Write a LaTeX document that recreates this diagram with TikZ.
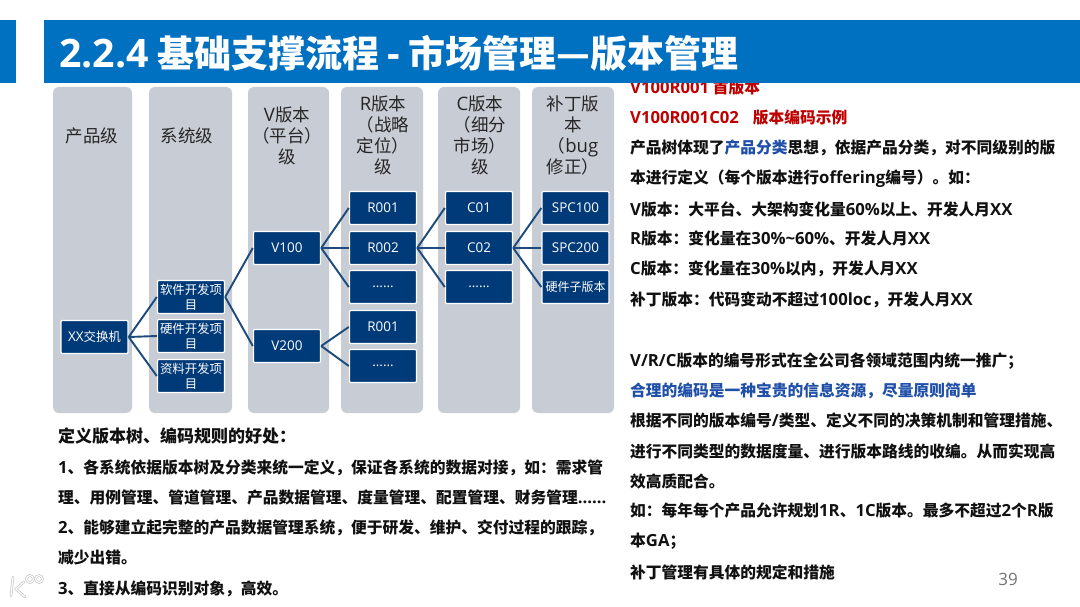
\documentclass[tikz,border=0pt]{standalone}
\usepackage{fontspec}
\setmainfont{Noto Sans CJK SC}
\newfontfamily\latfont[Scale=1.06]{Open Sans}
\newcommand\lt[1]{{\latfont #1}}
\newcommand\ltb[1]{{\latfont\fontsize{12.7}{15}\selectfont #1}}
\definecolor{banner}{HTML}{0070C0}
\definecolor{colgray}{HTML}{C8CCD4}
\definecolor{boxblue}{HTML}{003A78}
\definecolor{linkblue}{HTML}{1C4A7C}
\definecolor{redtxt}{HTML}{C00000}
\definecolor{bluetxt}{HTML}{1F4FA8}
\definecolor{bodytxt}{HTML}{111111}
\tikzset{
  colbar/.style={fill=colgray,rounded corners=6pt,draw=none},
  hd/.style={font=\fontsize{17.5}{21}\selectfont,text=black!85,align=center,inner sep=0pt},
  vbox/.style={fill=boxblue,draw=white,line width=1.4pt,minimum width=67pt,minimum height=33pt,inner sep=0pt,align=center,text=white,rounded corners=1pt,font=\fontsize{12.4}{15}\selectfont},
  link/.style={draw=linkblue,line width=1.9pt},
  rtxt/.style={anchor=west,inner sep=0pt,font=\fontsize{15.75}{18}\selectfont\bfseries,text=bodytxt},
  wm/.style={draw=black!22,line width=2.6pt,line cap=round},
  wmi/.style={draw=white,line width=1.2pt,line cap=round},
}
\begin{document}
\begin{tikzpicture}[x=1pt,y=-1pt]
\useasboundingbox (0,0) rectangle (1080,607);
\fill[white] (0,0) rectangle (1080,607);
% right text (behind banner)
\node[rtxt,text=redtxt] (r1) at (630,88) {\lt{V100R001} 首版本};
\node[rtxt,text=redtxt] (r2) at (630,118) {\lt{V100R001C02}\hspace{14pt}版本编码示例};
\node[rtxt] (r3) at (630,148) {产品树体现了\textcolor{bluetxt}{产品分类}思想，依据产品分类，对不同级别的版};
\node[rtxt] (r4) at (630,179) {本进行定义（每个版本进行\lt{offering}编号）。如：};
\node[rtxt] (r5) at (630,209) {\lt{V}版本：大平台、大架构变化量\lt{60\%}以上、开发人月\lt{XX}};
\node[rtxt] (r6) at (630,239) {\lt{R}版本：变化量在\lt{30\%\textasciitilde60\%}、开发人月\lt{XX}};
\node[rtxt] (r7) at (630,269) {\lt{C}版本：变化量在\lt{30\%}以内，开发人月\lt{XX}};
\node[rtxt] (r8) at (630,300) {补丁版本：代码变动不超过\lt{100loc}，开发人月\lt{XX}};
\node[rtxt] (r9) at (630,361) {\lt{V/R/C}版本的编号形式在全公司各领域范围内统一推广；};
\node[rtxt,text=bluetxt] (r10) at (630,391) {合理的编码是一种宝贵的信息资源，尽量原则简单};
\node[rtxt] (r11) at (630,421) {根据不同的版本编号\lt{/}类型、定义不同的决策机制和管理措施、};
\node[rtxt] (r12) at (630,451) {进行不同类型的数据度量、进行版本路线的收编。从而实现高};
\node[rtxt] (r13) at (630,481) {效高质配合。};
\node[rtxt] (r14) at (630,511) {如：每年每个产品允许规划\lt{1R}、\lt{1C}版本。最多不超过\lt{2}个\lt{R}版};
\node[rtxt] (r15) at (630,541) {本\lt{GA}；};
\node[rtxt] (r16) at (630,572) {补丁管理有具体的规定和措施};
% banner
\fill[banner] (0,20) rectangle (16,83);
\fill[banner] (44,20) rectangle (1080,83);
\node[anchor=west,inner sep=0pt,text=white,font=\fontsize{37}{40}\selectfont\bfseries] (title) at (59,53) {\lt{2.2.4} 基础支撑流程 \lt{-} 市场管理—版本管理};
% columns
\fill[colbar] (53,87) rectangle (132,413);
\fill[colbar] (149,87) rectangle (232,413);
\fill[colbar] (248,87) rectangle (329,413);
\fill[colbar] (341,87) rectangle (423,413);
\fill[colbar] (438,87) rectangle (520,413);
\fill[colbar] (532,87) rectangle (614,413);
\node[hd] (h1) at (92,136) {产品级};
\node[hd] (h2) at (187,136) {系统级};
\node[hd] (h3) at (287,136) {\lt{V}版本\\（平台）\\级};
\node[hd] (h4) at (383,135) {\lt{R}版本\\（战略\\定位）\\级};
\node[hd] (h5) at (480,135) {\lt{C}版本\\（细分\\市场）\\级};
\node[hd] (h6) at (573,135) {补丁版\\本\\（\lt{bug}\\修正）};
% boxes
\node[vbox] (xx) at (94.5,337) {\ltb{XX}交换机};
\node[vbox] (s1) at (191,297) {软件开发项\\目};
\node[vbox] (s2) at (191,336) {硬件开发项\\目};
\node[vbox] (s3) at (191,376) {资料开发项\\目};
\node[vbox] (v1) at (287,248) {\ltb{V100}};
\node[vbox] (v2) at (287,346) {\ltb{V200}};
\node[vbox] (ra) at (383,208) {\ltb{R001}};
\node[vbox] (rb) at (383,248) {\ltb{R002}};
\node[vbox] (rc) at (383,287) {\ltb{……}};
\node[vbox] (rd) at (383,327) {\ltb{R001}};
\node[vbox] (re) at (383,366) {\ltb{……}};
\node[vbox] (ca) at (479,208) {\ltb{C01}};
\node[vbox] (cb) at (479,248) {\ltb{C02}};
\node[vbox] (cc) at (479,287) {\ltb{……}};
\node[vbox] (pa) at (575.5,208) {\ltb{SPC100}};
\node[vbox] (pb) at (575.5,248) {\ltb{SPC200}};
\node[vbox,font=\fontsize{12}{14}\selectfont] (pc) at (575.5,287) {硬件子版本};
% connectors
\foreach \a/\b in {xx/s1,xx/s2,xx/s3,s1/v1,s1/v2,v1/ra,v1/rb,v1/rc,v2/rd,v2/re,rb/ca,rb/cb,rb/cc,cb/pa,cb/pb,cb/pc}
  \draw[link] (\a.east) -- (\b.west);
% left text
\node[rtxt,font=\fontsize{17}{18}\selectfont\bfseries] (l0) at (58,436) {定义版本树、编码规则的好处：};
\node[rtxt] (l1) at (58,468) {\lt{1}、各系统依据版本树及分类来统一定义，保证各系统的数据对接，如：需求管};
\node[rtxt] (l2) at (58,498) {理、用例管理、管道管理、产品数据管理、度量管理、配置管理、财务管理\lt{……}};
\node[rtxt] (l3) at (58,528) {\lt{2}、能够建立起完整的产品数据管理系统，便于研发、维护、交付过程的跟踪，};
\node[rtxt] (l4) at (58,558) {减少出错。};
\node[rtxt] (l5) at (58,589) {\lt{3}、直接从编码识别对象，高效。};
% watermark logo (illegible in the reference, drawn as a shape only)
\foreach \s in {wm,wmi}{
  \draw[\s] (13,577) -- (11,596);
  \draw[\s] (24,582) -- (16,589) -- (25,597);
  \draw[\s] (30,579) circle (3.5);
  \draw[\s] (39,579) circle (3.5);
}
% page number
\node[inner sep=0pt,text=black!55,font=\fontsize{16}{18}\selectfont] (pg) at (1008,579) {\lt{39}};
\end{tikzpicture}
\end{document}
